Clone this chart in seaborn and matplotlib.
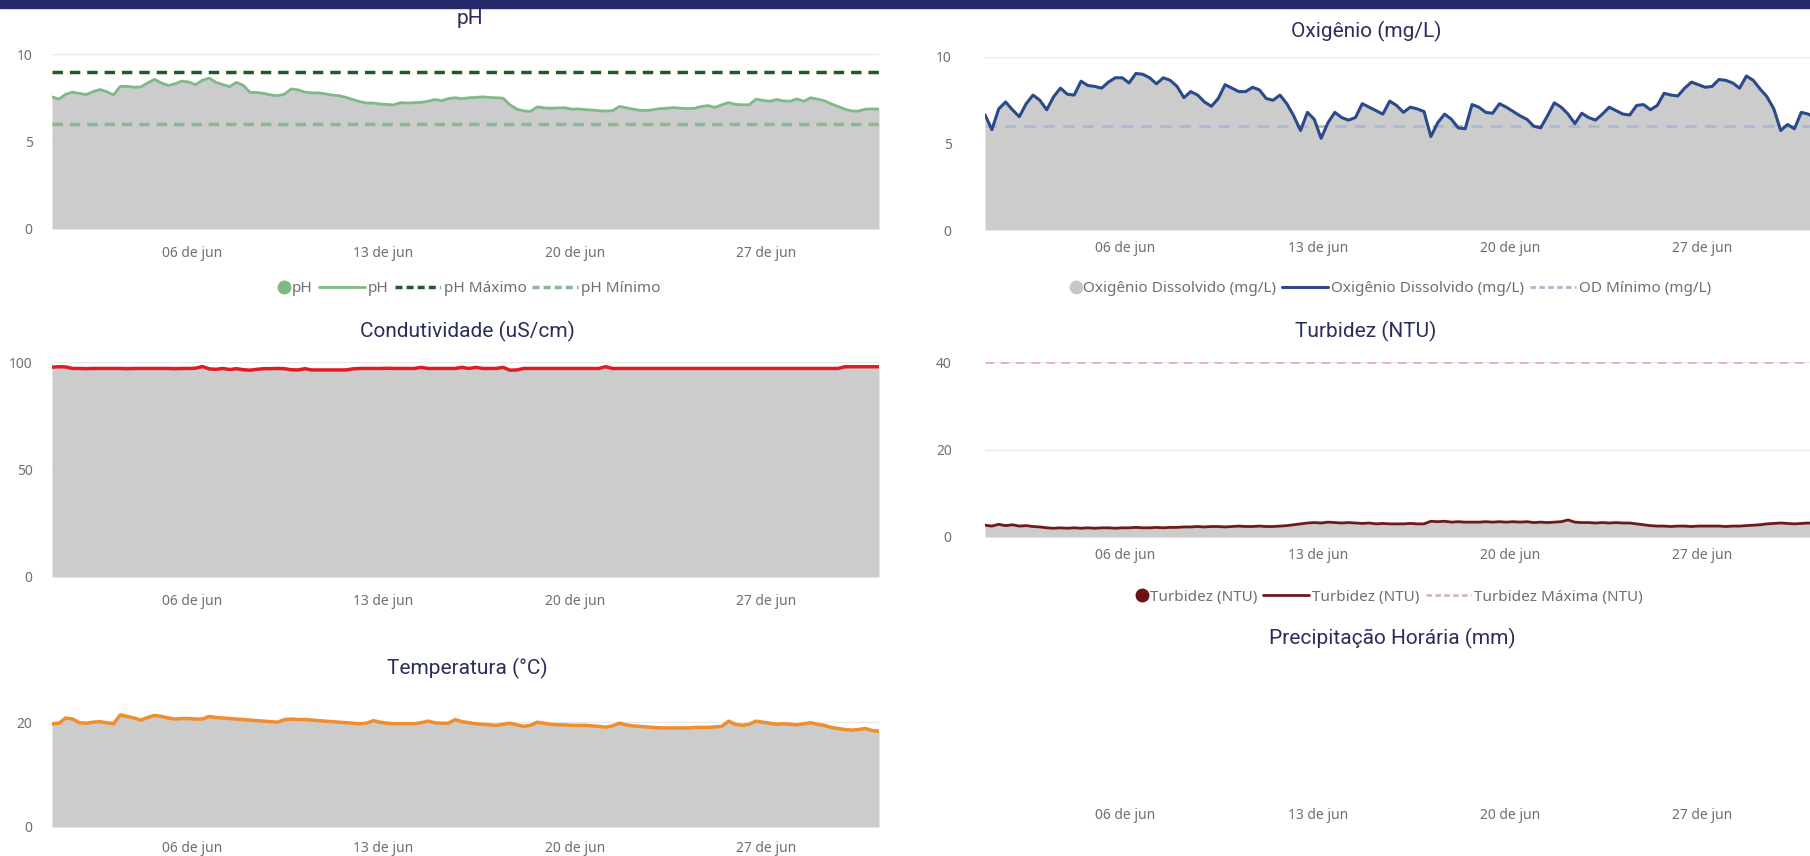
import numpy as np
import pandas as pd
import matplotlib
matplotlib.use("Agg")
import matplotlib.pyplot as plt
from matplotlib.lines import Line2D
from matplotlib.legend_handler import HandlerLine2D
import seaborn as sns

# time axis: one reading every 6 hours, 31/mai 21h -> 01/jul 03h
start_time = "2023-05-31 21:00"
n_points = 122

ph = [7.55, 7.42, 7.70, 7.82, 7.75, 7.68, 7.85, 7.97, 7.85, 7.66, 8.15, 8.15, 8.10, 8.12, 8.35, 8.55,
      8.35, 8.20, 8.30, 8.45, 8.40, 8.25, 8.50, 8.62, 8.38, 8.25, 8.14, 8.38, 8.20, 7.80, 7.80, 7.75,
      7.66, 7.62, 7.70, 8.00, 7.95, 7.82, 7.78, 7.78, 7.72, 7.65, 7.62, 7.52, 7.40, 7.28, 7.20, 7.20,
      7.14, 7.12, 7.09, 7.22, 7.20, 7.22, 7.24, 7.30, 7.40, 7.33, 7.45, 7.50, 7.45, 7.50, 7.52, 7.55,
      7.52, 7.50, 7.47, 7.10, 6.85, 6.75, 6.72, 6.98, 6.92, 6.90, 6.92, 6.93, 6.85, 6.86, 6.82, 6.80,
      6.76, 6.74, 6.76, 7.00, 6.93, 6.85, 6.78, 6.77, 6.82, 6.88, 6.90, 6.94, 6.90, 6.88, 6.90, 7.00,
      7.05, 6.95, 7.10, 7.22, 7.12, 7.10, 7.10, 7.42, 7.35, 7.30, 7.40, 7.32, 7.30, 7.43, 7.30, 7.50,
      7.42, 7.33, 7.15, 7.00, 6.85, 6.74, 6.74, 6.85, 6.86, 6.86]
ph_max = 9
ph_min = 6

oxigenio = [6.66, 5.80, 7.00, 7.40, 6.95, 6.55, 7.30, 7.80, 7.50, 6.95, 7.70, 8.20, 7.85, 7.80, 8.60, 8.35,
            8.30, 8.20, 8.55, 8.80, 8.80, 8.50, 9.05, 9.00, 8.80, 8.45, 8.80, 8.65, 8.30, 7.65, 8.00, 7.80,
            7.40, 7.15, 7.60, 8.40, 8.20, 8.00, 8.00, 8.25, 8.10, 7.60, 7.50, 7.80, 7.30, 6.60, 5.75, 6.80,
            6.40, 5.30, 6.20, 6.80, 6.50, 6.35, 6.50, 7.30, 7.10, 6.90, 6.70, 7.45, 7.20, 6.80, 7.10, 7.00,
            6.85, 5.40, 6.20, 6.70, 6.40, 5.90, 5.85, 7.25, 7.10, 6.80, 6.75, 7.30, 7.10, 6.85, 6.60, 6.40,
            6.00, 5.90, 6.60, 7.35, 7.10, 6.70, 6.15, 6.75, 6.50, 6.35, 6.70, 7.10, 6.90, 6.70, 6.65, 7.20,
            7.25, 6.95, 7.20, 7.90, 7.80, 7.75, 8.20, 8.55, 8.40, 8.25, 8.30, 8.70, 8.65, 8.50, 8.20, 8.90,
            8.65, 8.15, 7.70, 7.00, 5.75, 6.10, 5.85, 6.80, 6.70, 6.50]
od_min = 6

condutividade = [97.6, 97.8, 97.7, 97.0, 97.0, 96.9, 97.0, 97.0, 97.0, 97.0, 97.0, 96.9, 97.0, 97.0, 97.0, 97.0,
                 97.0, 97.0, 96.9, 97.0, 97.0, 97.1, 97.9, 96.8, 96.6, 97.0, 96.5, 96.9, 96.4, 96.2, 96.6, 96.9,
                 96.9, 97.0, 96.9, 96.4, 96.3, 96.9, 96.3, 96.3, 96.3, 96.3, 96.3, 96.3, 96.8, 97.0, 97.0, 97.0,
                 97.0, 97.1, 97.0, 97.0, 97.0, 97.0, 97.5, 97.0, 97.0, 97.0, 97.0, 97.0, 97.5, 97.0, 97.5, 97.0,
                 97.0, 97.0, 97.5, 96.2, 96.3, 97.0, 97.0, 97.0, 97.0, 97.0, 97.0, 97.0, 97.0, 97.0, 97.0, 97.0,
                 97.0, 97.8, 97.0, 97.0, 97.0, 97.0, 97.0, 97.0, 97.0, 97.0, 97.0, 97.0, 97.0, 97.0, 97.0, 97.0,
                 97.0, 97.0, 97.0, 97.0, 97.0, 97.0, 97.0, 97.0, 97.0, 97.0, 97.0, 97.0, 97.0, 97.0, 97.0, 97.0,
                 97.0, 97.0, 97.0, 97.0, 97.8, 97.8, 97.8, 97.8, 97.8, 97.8]

temperatura = [19.7, 19.8, 20.8, 20.6, 19.9, 19.8, 20.0, 20.1, 19.9, 19.7, 21.4, 21.1, 20.8, 20.4, 20.9, 21.3,
               21.1, 20.8, 20.6, 20.7, 20.7, 20.6, 20.6, 21.1, 20.9, 20.8, 20.7, 20.6, 20.5, 20.4, 20.3, 20.2,
               20.1, 20.0, 20.5, 20.6, 20.5, 20.5, 20.4, 20.3, 20.2, 20.1, 20.0, 19.9, 19.8, 19.7, 19.8, 20.3,
               20.0, 19.8, 19.7, 19.7, 19.7, 19.7, 19.9, 20.2, 19.9, 19.8, 19.8, 20.5, 20.1, 19.9, 19.7, 19.6,
               19.5, 19.4, 19.6, 19.8, 19.5, 19.2, 19.4, 20.0, 19.8, 19.6, 19.5, 19.5, 19.4, 19.4, 19.4, 19.3,
               19.2, 19.05, 19.3, 19.8, 19.5, 19.3, 19.2, 19.1, 19.0, 18.9, 18.9, 18.9, 18.9, 18.9, 19.0, 19.0,
               19.0, 19.1, 19.2, 20.2, 19.6, 19.4, 19.6, 20.2, 20.0, 19.8, 19.6, 19.7, 19.6, 19.5, 19.7, 19.9,
               19.6, 19.4, 19.0, 18.8, 18.6, 18.5, 18.6, 18.8, 18.4, 18.3]

turbidez = [2.7, 2.5, 2.9, 2.6, 2.8, 2.5, 2.6, 2.4, 2.3, 2.1, 2.0, 2.1, 2.0, 2.1, 2.0, 2.1,
            2.0, 2.1, 2.1, 2.0, 2.1, 2.1, 2.2, 2.1, 2.1, 2.2, 2.1, 2.2, 2.2, 2.3, 2.3, 2.4,
            2.3, 2.4, 2.4, 2.3, 2.4, 2.5, 2.4, 2.4, 2.5, 2.4, 2.4, 2.5, 2.6, 2.8, 3.0, 3.2,
            3.3, 3.2, 3.4, 3.3, 3.2, 3.3, 3.2, 3.1, 3.2, 3.0, 3.1, 3.0, 3.0, 3.0, 3.1, 3.0,
            3.0, 3.6, 3.5, 3.6, 3.4, 3.5, 3.4, 3.4, 3.4, 3.5, 3.4, 3.5, 3.4, 3.5, 3.4, 3.5,
            3.3, 3.4, 3.3, 3.4, 3.5, 3.9, 3.4, 3.3, 3.3, 3.2, 3.3, 3.2, 3.3, 3.2, 3.2, 3.0,
            2.8, 2.6, 2.5, 2.5, 2.4, 2.5, 2.5, 2.4, 2.5, 2.5, 2.5, 2.5, 2.4, 2.5, 2.5, 2.6,
            2.7, 2.8, 3.0, 3.1, 3.2, 3.1, 3.0, 3.1, 3.2, 3.1]
turbidez_max = 40

tick_dates = ["2023-06-06", "2023-06-13", "2023-06-20", "2023-06-27"]
tick_labels = ["06 de jun", "13 de jun", "20 de jun", "27 de jun"]

df = pd.DataFrame({
    "hora": pd.date_range(start_time, periods=n_points, freq="6h"),
    "ph": ph,
    "oxigenio": oxigenio,
    "condutividade": condutividade,
    "temperatura": temperatura,
    "turbidez": turbidez,
})

sns.set_theme(style="white")
plt.rcParams["font.family"] = ["Noto Sans", "DejaVu Sans"]

W, H = 1810, 856
fig = plt.figure(figsize=(W / 100, H / 100), dpi=100)
fig.patch.set_facecolor("white")

# navy band on top
fig.add_artist(plt.Rectangle((0, 1 - 8 / H), 1, 8 / H, transform=fig.transFigure, color="#262a6d", zorder=10))

TITLE_COLOR = "#2b2e5c"
TICK_COLOR = "#707070"
FILL = "#cccccc"


class DotHandler(HandlerLine2D):
    # dot sits right next to its label, like the Power BI legend
    def create_artists(self, legend, orig_handle, xdescent, ydescent, width, height, fontsize, trans):
        arts = super().create_artists(legend, orig_handle, xdescent, ydescent, width, height, fontsize, trans)
        for a in arts:
            x = np.asarray(a.get_xdata(), dtype=float)
            a.set_xdata(np.full_like(x, x.max() - 0.3 * fontsize))
        return arts


def make_ax(l, t, r, b):
    return fig.add_axes([l / W, 1 - b / H, (r - l) / W, (b - t) / H])


def style_ax(ax, ylim, yticks, ypad, xpad):
    ax.set_xlim(df["hora"].iloc[0], df["hora"].iloc[-1])
    ax.set_ylim(*ylim)
    ax.set_yticks(yticks)
    ax.set_yticklabels([str(v) for v in yticks])
    ax.set_xticks(pd.to_datetime(tick_dates))
    ax.set_xticklabels(tick_labels)
    ax.tick_params(axis="both", length=0, labelsize=10, labelcolor=TICK_COLOR)
    ax.tick_params(axis="y", pad=ypad)
    ax.tick_params(axis="x", pad=xpad)
    for s in ax.spines.values():
        s.set_visible(False)
    ax.set_xlabel("")
    ax.set_ylabel("")
    for y in yticks:
        ax.axhline(y, color="#e9e9e9", lw=1, zorder=0)


def area(ax, col, color, lw):
    ax.fill_between(df["hora"], 0, df[col], color=FILL, lw=0, zorder=1)
    sns.lineplot(data=df, x="hora", y=col, ax=ax, color=color, lw=lw, zorder=3, legend=False)


def title(x, y, text):
    fig.text(x / W, 1 - y / H, text, ha="center", va="center", fontsize=15,
             color=TITLE_COLOR, family=["Roboto", "DejaVu Sans"])


def legend(x, y, handles, labels):
    fig.legend(handles, labels, loc="center", bbox_to_anchor=(x / W, 1 - y / H), ncol=len(labels),
               frameon=False, fontsize=11, labelcolor=TICK_COLOR, handlelength=3.0,
               handletextpad=0.2, columnspacing=0.4, handler_map={handles[0]: DotHandler()})


# pH
ax = make_ax(52, 54, 879, 229)
area(ax, "ph", "#7fb985", 2)
ax.axhline(ph_max, color="#1f5a2c", lw=2.5, ls=(0, (3, 2)), zorder=4)
ax.axhline(ph_min, color="#8db692", lw=2.5, ls=(0, (3, 2)), zorder=4)
style_ax(ax, (0, 10), [0, 5, 10], 14, 12)
title(470, 18, "pH")
legend(452, 289,
       [Line2D([], [], ls="", marker="o", color="#7fb985", ms=9),
        Line2D([], [], color="#7fb985", lw=2),
        Line2D([], [], color="#1f5a2c", lw=2.5, ls=(0, (2, 1.2))),
        Line2D([], [], color="#8db692", lw=2.5, ls=(0, (2, 1.2)))],
       ["pH", "pH", "pH Máximo", "pH Mínimo"])

# Condutividade
ax = make_ax(52, 362, 879, 577)
area(ax, "condutividade", "#e01b24", 2.5)
style_ax(ax, (0, 100), [0, 50, 100], 14, 12)
title(467, 331, "Condutividade (uS/cm)")

# Temperatura
ax = make_ax(52, 696, 879, 827)
area(ax, "temperatura", "#f08d2c", 2.5)
style_ax(ax, (0, 25), [0, 20], 14, 10)
title(467, 668, "Temperatura (°C)")

# Oxigenio
ax = make_ax(985, 57, 1815, 230)
area(ax, "oxigenio", "#2a4a8b", 2.2)
ax.axhline(od_min, color="#aab8d4", lw=2, ls=(0, (4, 3)), zorder=2)
style_ax(ax, (0, 10), [0, 5, 10], 24, 8)
title(1366, 31, "Oxigênio (mg/L)")
legend(1373, 289,
       [Line2D([], [], ls="", marker="o", color="#c8c8c8", ms=9),
        Line2D([], [], color="#2a4a8b", lw=2.2),
        Line2D([], [], color="#aab8d4", lw=2, ls=(0, (2, 1.2)))],
       ["Oxigênio Dissolvido (mg/L)", "Oxigênio Dissolvido (mg/L)", "OD Mínimo (mg/L)"])

# Turbidez
ax = make_ax(985, 362, 1815, 537)
area(ax, "turbidez", "#6e1a1a", 2)
ax.axhline(turbidez_max, color="#e6b0b5", lw=2, ls=(0, (3, 2.5)), zorder=4)
style_ax(ax, (0, 40), [0, 20, 40], 24, 8)
title(1366, 331, "Turbidez (NTU)")
legend(1372, 597,
       [Line2D([], [], ls="", marker="o", color="#6b1111", ms=9),
        Line2D([], [], color="#6e1a1a", lw=2),
        Line2D([], [], color="#e6b0b5", lw=2, ls=(0, (2, 1.2)))],
       ["Turbidez (NTU)", "Turbidez (NTU)", "Turbidez Máxima (NTU)"])

# Precipitacao (sem dados)
ax = make_ax(985, 690, 1815, 797)
style_ax(ax, (0, 1), [], 24, 8)
title(1392, 638, "Precipitação Horária (mm)")

fig.savefig("out.png", dpi=100, facecolor="white")
